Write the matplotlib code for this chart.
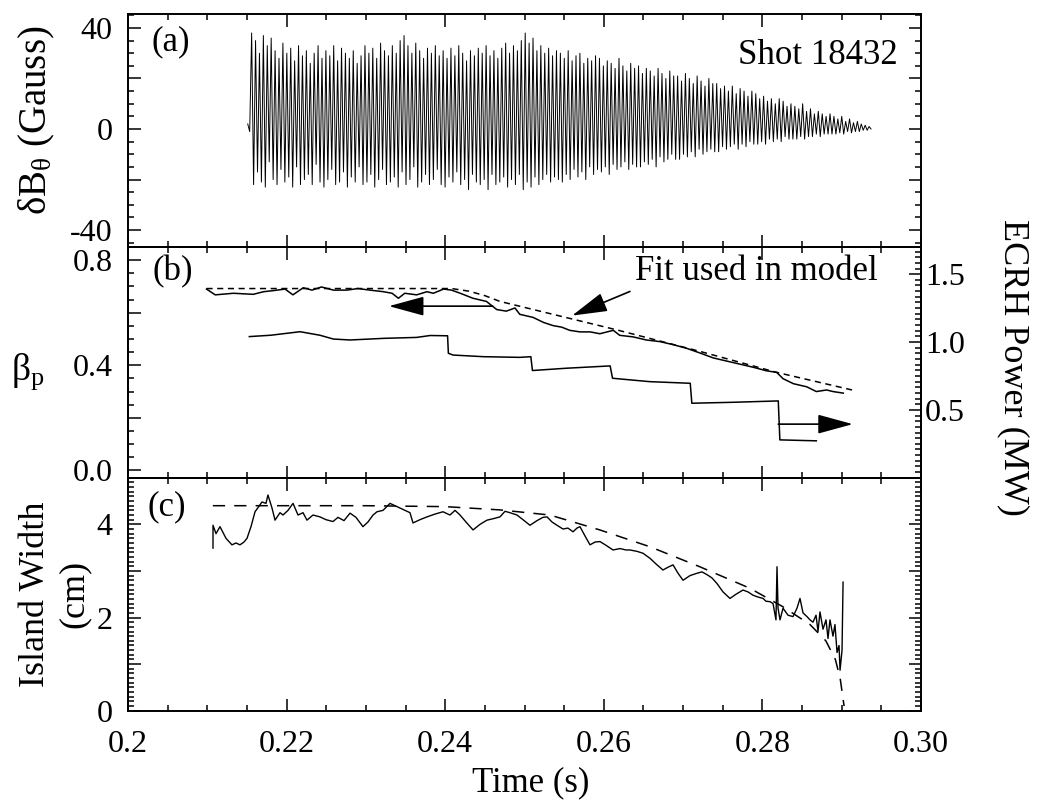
import numpy as np
import matplotlib
matplotlib.use('Agg')
import matplotlib.pyplot as plt
from matplotlib.ticker import MultipleLocator, FixedLocator, FixedFormatter

# Times-like look
plt.rcParams['font.family'] = 'serif'
plt.rcParams['font.serif'] = ['Liberation Serif', 'DejaVu Serif']
plt.rcParams['mathtext.fontset'] = 'custom'
plt.rcParams['mathtext.rm'] = 'Liberation Serif'
plt.rcParams['mathtext.it'] = 'Liberation Serif'
plt.rcParams['font.size'] = 23

# ---- (a) Mirnov signal, peak and trough of each stroke (Gauss)
mode_t0, mode_t1 = 0.2151, 0.2937
db_high = [2, 38, 35, 30, 37, 33, 36, 31, 28, 34,
           30, 32, 27, 33, 29, 31, 26, 30, 33, 28,
           31, 29, 33, 27, 32, 30, 28, 31, 26, 29,
           33, 30, 32, 28, 34, 31, 29, 33, 30, 35,
           37, 33, 30, 34, 31, 28, 32, 30, 33, 29,
           31, 28, 32, 29, 33, 30, 27, 31, 29, 32,
           30, 33, 29, 31, 28, 32, 34, 30, 33, 31,
           35, 38, 34, 36, 31, 33, 30, 32, 29, 31,
           30, 28, 31, 27, 29, 30, 26, 28, 27, 29,
           28, 25, 27, 26, 24, 28, 25, 23, 26, 24,
           25, 22, 24, 23, 21, 24, 22, 20, 23, 21,
           21, 19, 22, 20, 18, 21, 19, 17, 20, 18,
           18, 16, 17, 15, 17, 14, 16, 15, 13, 15,
           14, 12, 13, 11, 12, 10, 12, 11, 9, 10,
           9, 8, 10, 7, 8, 6, 7, 6, 5, 6,
           5, 4, 5, 3, 4, 2.5, 3, 2, 1.5, 1]
db_low = [-1, -22, -17, -21, -23, -13, -20, -22, -16, -21,
          -19, -23, -15, -22, -20, -18, -22, -14, -21, -23,
          -20, -16, -22, -21, -17, -23, -19, -21, -15, -22,
          -21, -18, -23, -20, -16, -22, -21, -19, -23, -17,
          -22, -20, -15, -23, -21, -18, -22, -20, -16, -22,
          -23, -19, -21, -17, -22, -20, -24, -18, -21, -22,
          -20, -24, -18, -22, -21, -19, -23, -20, -22, -18,
          -24, -21, -23, -19, -22, -20, -18, -21, -19, -20,
          -21, -18, -20, -16, -19, -17, -20, -15, -18, -16,
          -17, -15, -18, -14, -16, -15, -13, -16, -14, -15,
          -15, -13, -14, -12, -15, -11, -13, -12, -10, -12,
          -12, -10, -11, -9, -11, -8, -10, -9, -8, -9,
          -9, -7, -8, -7, -6, -8, -6, -7, -5, -6,
          -6, -5, -6, -4, -5, -4, -5, -3, -4, -4,
          -4, -3, -4, -3, -3, -2, -3, -2, -2, -2,
          -2, -1.5, -2, -1, -1.5, -1, -1, -0.5, -0.5, 0]

# ---- (b) beta_p measured, fit, ECRH power
beta_t = [0.2099, 0.2110, 0.2133, 0.2158, 0.2171, 0.2183, 0.2198, 0.2208, 0.2221,
          0.2232, 0.2244, 0.2259, 0.2276, 0.2290, 0.2305, 0.2322, 0.2333, 0.2341,
          0.2349, 0.2364, 0.2377, 0.2385, 0.2398, 0.2408, 0.2419, 0.2435, 0.2452,
          0.2465, 0.2477, 0.2488, 0.2494, 0.2511, 0.2524, 0.2536, 0.2547, 0.2557,
          0.2570, 0.2583, 0.2595, 0.2612, 0.2620, 0.2637, 0.2654, 0.2671, 0.2688,
          0.2704, 0.2721, 0.2738, 0.2755, 0.2772, 0.2789, 0.2805, 0.2818, 0.2826,
          0.2839, 0.2856, 0.2868, 0.2881, 0.2889, 0.2902]
beta_p = [0.690, 0.668, 0.674, 0.670, 0.680, 0.684, 0.690, 0.668, 0.695,
          0.686, 0.698, 0.686, 0.686, 0.692, 0.686, 0.680, 0.674, 0.655,
          0.674, 0.668, 0.680, 0.674, 0.690, 0.686, 0.674, 0.655, 0.643,
          0.612, 0.606, 0.618, 0.594, 0.582, 0.563, 0.551, 0.545, 0.533,
          0.527, 0.527, 0.520, 0.533, 0.514, 0.508, 0.496, 0.490, 0.478,
          0.465, 0.447, 0.428, 0.416, 0.404, 0.392, 0.379, 0.373, 0.349,
          0.330, 0.318, 0.300, 0.306, 0.300, 0.294]

fit_b_t = [0.2099, 0.2408, 0.2430, 0.2450, 0.2469, 0.2616, 0.2721, 0.2818, 0.2913]
fit_b = [0.692, 0.692, 0.682, 0.665, 0.643, 0.535, 0.453, 0.373, 0.306]

ecrh_t = [0.2153, 0.2180, 0.2217, 0.2242, 0.2259, 0.2280, 0.2322, 0.2364, 0.2381,
          0.2403, 0.2404, 0.2410, 0.2448, 0.2494, 0.2508, 0.2510, 0.2553, 0.2608,
          0.2611, 0.2658, 0.2709, 0.2711, 0.2763, 0.2820, 0.2822, 0.2868]
ecrh_mw = [1.040, 1.050, 1.076, 1.050, 1.022, 1.015, 1.027, 1.034, 1.048,
           1.046, 0.917, 0.904, 0.892, 0.887, 0.892, 0.790, 0.807, 0.824,
           0.733, 0.708, 0.696, 0.549, 0.556, 0.566, 0.279, 0.272]

# ---- (c) island width (cm) and model fit
w_t = [0.21072, 0.21072, 0.21110, 0.21160, 0.21236, 0.21311, 0.21362, 0.21412, 0.21463,
       0.21501, 0.21551, 0.21602, 0.21690, 0.21740, 0.21765, 0.21816, 0.21854, 0.21917,
       0.21955, 0.22018, 0.22081, 0.22144, 0.22207, 0.22257, 0.22333, 0.22421, 0.22497,
       0.22585, 0.22648, 0.22724, 0.22800, 0.22875, 0.22963, 0.23026, 0.23090, 0.23140,
       0.23216, 0.23304, 0.23367, 0.23430, 0.23493, 0.23556, 0.23594, 0.23682, 0.23770,
       0.23871, 0.23972, 0.24060, 0.24124, 0.24187, 0.24262, 0.24351, 0.24439, 0.24527,
       0.24603, 0.24691, 0.24754, 0.24817, 0.24905, 0.24981, 0.25069, 0.25158, 0.25233,
       0.25284, 0.25347, 0.25410, 0.25485, 0.25548, 0.25612, 0.25662, 0.25700, 0.25763,
       0.25826, 0.25889, 0.25952, 0.26028, 0.26116, 0.26204, 0.26280, 0.26330, 0.26419,
       0.26494, 0.26583, 0.26658, 0.26746, 0.26810, 0.26873, 0.26936, 0.26999, 0.27087,
       0.27175, 0.27238, 0.27301, 0.27364, 0.27427, 0.27503, 0.27591, 0.27667, 0.27755,
       0.27818, 0.27881, 0.27944, 0.28008, 0.28045, 0.28096, 0.28134, 0.28171, 0.28184,
       0.28197, 0.28222, 0.28260, 0.28323, 0.28386, 0.28436, 0.28474, 0.28512, 0.28562,
       0.28600, 0.28638, 0.28676, 0.28701, 0.28726, 0.28764, 0.28802, 0.28827, 0.28852,
       0.28890, 0.28915, 0.28941, 0.28966, 0.28979, 0.29004, 0.29017]
w_cm = [3.49, 3.98, 3.80, 3.95, 3.70, 3.56, 3.60, 3.56, 3.62,
        3.70, 3.95, 4.27, 4.48, 4.45, 4.63, 4.35, 4.09, 4.25,
        4.20, 4.30, 4.45, 4.20, 4.25, 4.09, 4.20, 4.16, 4.10,
        4.06, 4.15, 4.08, 4.24, 4.15, 3.95, 4.05, 4.20, 4.27,
        4.30, 4.45, 4.40, 4.35, 4.30, 4.25, 4.03, 4.10, 4.16,
        4.22, 4.27, 4.20, 4.30, 4.20, 4.05, 3.88, 4.00, 4.09,
        4.12, 4.16, 4.28, 4.25, 4.20, 4.10, 3.98, 4.08, 4.15,
        4.16, 4.05, 3.98, 3.90, 3.92, 3.84, 3.92, 3.95, 3.75,
        3.56, 3.62, 3.63, 3.55, 3.45, 3.48, 3.45, 3.45, 3.42,
        3.38, 3.27, 3.15, 3.02, 3.08, 3.13, 2.95, 2.80, 2.90,
        2.95, 2.98, 2.92, 2.85, 2.73, 2.55, 2.41, 2.50, 2.59,
        2.55, 2.48, 2.44, 2.41, 2.35, 2.34, 2.30, 1.95, 3.09,
        2.20, 1.95, 2.20, 2.05, 2.02, 2.20, 2.41, 2.10, 2.02,
        1.95, 1.90, 2.05, 1.70, 2.12, 1.75, 1.95, 1.55, 1.95,
        1.60, 1.85, 1.25, 1.40, 0.87, 1.30, 2.76]

fit_c_t = [0.2107, 0.2300, 0.2400, 0.2469, 0.2532, 0.2595, 0.2658, 0.2721, 0.2784,
           0.2826, 0.2860, 0.2880, 0.2892, 0.2898, 0.2903]
fit_c = [4.40, 4.40, 4.38, 4.31, 4.20, 3.88, 3.52, 3.09, 2.63,
         2.23, 1.85, 1.50, 1.10, 0.70, 0.10]

xtick_vals = [0.2, 0.22, 0.24, 0.26, 0.28, 0.30]
xtick_text = ['0.2', '0.22', '0.24', '0.26', '0.28', '0.30']

fig = plt.figure(figsize=(10.38, 8.07), dpi=100)
L, W = 0.1233, 0.764
ax_a = fig.add_axes([L, 0.6939, W, 0.2887])
ax_b = fig.add_axes([L, 0.4080, W, 0.2859])
ax_c = fig.add_axes([L, 0.1193, W, 0.2887])


def style(ax, right=True):
    ax.set_xlim(0.2, 0.3)
    ax.xaxis.set_major_locator(FixedLocator(xtick_vals))
    ax.xaxis.set_minor_locator(MultipleLocator(0.005))
    ax.tick_params(which='both', direction='in', top=True, right=right, width=1.1)
    ax.tick_params(which='major', length=9, pad=11)
    ax.tick_params(which='minor', length=4.5)
    ax.tick_params(axis='x', labelbottom=False, pad=14)
    for s in ax.spines.values():
        s.set_linewidth(1.4)


for ax in (ax_a, ax_b, ax_c):
    style(ax, right=(ax is not ax_b))

# (a)
db = np.column_stack([db_high, db_low]).ravel()
mode_t = np.linspace(mode_t0, mode_t1, len(db))
ax_a.plot(mode_t, db, color='k', lw=0.7)
ax_a.set_ylim(-46.7, 45.5)
ax_a.yaxis.set_major_locator(FixedLocator([-40, -20, 0, 20, 40]))
ax_a.yaxis.set_major_formatter(FixedFormatter(['-40', '', '0', '', '40']))
ax_a.yaxis.set_minor_locator(MultipleLocator(5))
ax_a.text(0.030, 0.88, '(a)', transform=ax_a.transAxes, fontsize=25, va='center')
ax_a.text(0.971, 0.824, 'Shot 18432', transform=ax_a.transAxes, fontsize=25,
          ha='right', va='center')

# (b)
ax_b.plot(beta_t, beta_p, color='k', lw=1.1)
ax_b.plot(fit_b_t, fit_b, color='k', lw=1.1, dashes=(4, 3))
ax_b.set_ylim(-0.028, 0.85)
ax_b.yaxis.set_major_locator(FixedLocator([0.0, 0.2, 0.4, 0.6, 0.8]))
ax_b.yaxis.set_major_formatter(FixedFormatter(['0.0', '', '0.4', '', '0.8']))
ax_b.yaxis.set_minor_locator(MultipleLocator(0.05))
ax_b.text(0.0315, 0.892, '(b)', transform=ax_b.transAxes, fontsize=25, va='center')

ax_b2 = ax_b.twinx()
ax_b2.plot(ecrh_t, ecrh_mw, color='k', lw=1.1)
ax_b2.set_ylim(0, 1.70)
ax_b2.set_yticks([0.5, 1.0, 1.5])
ax_b2.set_yticklabels(['0.5', '1.0', '1.5'])
ax_b2.yaxis.set_minor_locator(MultipleLocator(0.5 / 12))
ax_b2.tick_params(which='both', direction='in', width=1.1)
ax_b2.tick_params(which='major', length=9, pad=3)
ax_b2.tick_params(which='minor', length=4.5)
for s in ax_b2.spines.values():
    s.set_linewidth(1.4)

arr = dict(arrowstyle='-|>,head_length=1.1,head_width=0.3', color='k', lw=1.2,
           mutation_scale=20, shrinkA=0, shrinkB=0)
ax_b.annotate('', xy=(0.2329, 0.625), xytext=(0.2460, 0.625), arrowprops=arr)
ax_b2.annotate('', xy=(0.2914, 0.395), xytext=(0.2820, 0.395), arrowprops=arr)
ax_b.annotate('', xy=(0.2560, 0.589), xytext=(0.2633, 0.681), arrowprops=arr)
ax_b.text(0.2792, 0.755, 'Fit used in model', fontsize=25, ha='center', va='center')

# (c)
ax_c.plot(w_t, w_cm, color='k', lw=1.0)
ax_c.plot(fit_c_t, fit_c, color='k', lw=1.1, dashes=(8, 6))
ax_c.set_ylim(0, 5)
ax_c.yaxis.set_major_locator(FixedLocator([0, 1, 2, 3, 4]))
ax_c.yaxis.set_major_formatter(FixedFormatter(['0', '', '2', '', '4']))
ax_c.yaxis.set_minor_locator(MultipleLocator(0.1))
ax_c.tick_params(axis='x', labelbottom=True)
ax_c.set_xticklabels(xtick_text)
ax_c.text(0.025, 0.874, '(c)', transform=ax_c.transAxes, fontsize=25, va='center')

# axis titles
fig.text(0.036, 0.851, r'$\delta$B$_{\theta}$ (Gauss)', rotation=90, fontsize=28,
         ha='center', va='center')
fig.text(0.027, 0.539, r'$\beta_{\rm p}$', fontsize=27, ha='center', va='center')
fig.text(0.053, 0.264, 'Island Width\n(cm)', rotation=90, fontsize=26,
         ha='center', va='center', linespacing=1.25, multialignment='center')
fig.text(0.976, 0.545, 'ECRH Power (MW)', rotation=-90, fontsize=26,
         ha='center', va='center')
fig.text(0.5116, 0.0297, 'Time (s)', fontsize=25, ha='center', va='center')

fig.savefig('out.png', dpi=100)
